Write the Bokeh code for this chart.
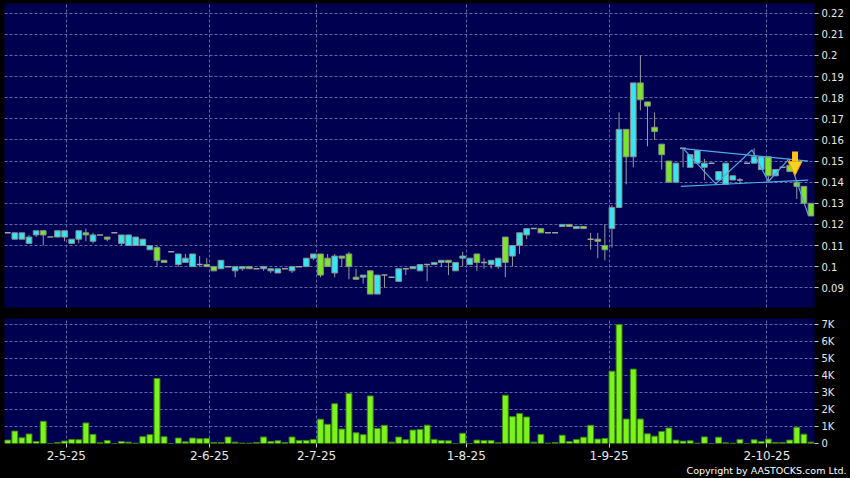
from bokeh.plotting import figure
from bokeh.layouts import column
from bokeh.models import (ColumnDataSource, FixedTicker, CustomJSTickFormatter, Grid, Range1d,
                          Arrow, NormalHead, Title, GlobalInlineStyleSheet)
from bokeh.embed import file_html
from bokeh.resources import INLINE

# ---------------- data ----------------
open_ = [0.116, 0.113, 0.113, 0.111, 0.115, 0.117, 0.114, 0.114, 0.114, 0.111,
         0.113, 0.116, 0.112, 0.115, 0.114, 0.116, 0.111, 0.110, 0.110, 0.110,
         0.108, 0.109, 0.103, 0.107, 0.101, 0.102, 0.100, 0.101, 0.101, 0.100,
         0.099, 0.100, 0.098, 0.099, 0.100, 0.099, 0.099, 0.098, 0.097, 0.099,
         0.098, 0.100, 0.100, 0.104, 0.106, 0.104, 0.097, 0.105, 0.106, 0.095,
         0.095, 0.098, 0.087, 0.096, 0.095, 0.093, 0.099, 0.099, 0.098, 0.101,
         0.101, 0.102, 0.103, 0.098, 0.104, 0.101, 0.106, 0.102, 0.101, 0.100,
         0.114, 0.105, 0.110, 0.115, 0.118, 0.118, 0.116, 0.116, 0.119, 0.120,
         0.118, 0.119, 0.113, 0.113, 0.110, 0.118, 0.128, 0.165, 0.152, 0.187,
         0.178, 0.166, 0.158, 0.150, 0.140, 0.156, 0.147, 0.149, 0.147, 0.149,
         0.141, 0.139, 0.141, 0.141, 0.149, 0.149, 0.146, 0.152, 0.143, 0.147,
         0.148, 0.140, 0.138, 0.130]
high = [0.116, 0.116, 0.116, 0.115, 0.117, 0.117, 0.114, 0.117, 0.117, 0.113,
        0.117, 0.118, 0.116, 0.115, 0.114, 0.116, 0.115, 0.115, 0.114, 0.113,
        0.110, 0.110, 0.103, 0.107, 0.106, 0.106, 0.106, 0.105, 0.104, 0.100,
        0.103, 0.100, 0.100, 0.100, 0.100, 0.099, 0.100, 0.099, 0.099, 0.099,
        0.100, 0.100, 0.104, 0.106, 0.106, 0.106, 0.106, 0.105, 0.107, 0.099,
        0.096, 0.098, 0.096, 0.096, 0.095, 0.099, 0.099, 0.100, 0.101, 0.101,
        0.102, 0.103, 0.103, 0.102, 0.107, 0.104, 0.106, 0.104, 0.103, 0.104,
        0.114, 0.110, 0.116, 0.118, 0.118, 0.118, 0.116, 0.116, 0.120, 0.120,
        0.119, 0.119, 0.116, 0.116, 0.120, 0.129, 0.173, 0.165, 0.187, 0.200,
        0.178, 0.173, 0.158, 0.150, 0.149, 0.156, 0.153, 0.155, 0.151, 0.149,
        0.145, 0.149, 0.143, 0.142, 0.149, 0.156, 0.152, 0.152, 0.146, 0.147,
        0.148, 0.140, 0.138, 0.130]
low = [0.116, 0.113, 0.113, 0.111, 0.114, 0.110, 0.114, 0.114, 0.112, 0.111,
       0.111, 0.112, 0.111, 0.115, 0.112, 0.116, 0.110, 0.110, 0.110, 0.110,
       0.108, 0.100, 0.102, 0.107, 0.100, 0.102, 0.100, 0.100, 0.100, 0.098,
       0.099, 0.100, 0.095, 0.098, 0.099, 0.099, 0.098, 0.097, 0.097, 0.099,
       0.097, 0.100, 0.100, 0.103, 0.095, 0.100, 0.095, 0.100, 0.094, 0.094,
       0.092, 0.087, 0.087, 0.090, 0.095, 0.093, 0.096, 0.099, 0.098, 0.093,
       0.101, 0.100, 0.096, 0.098, 0.100, 0.101, 0.098, 0.099, 0.099, 0.099,
       0.095, 0.100, 0.106, 0.113, 0.118, 0.116, 0.116, 0.116, 0.119, 0.119,
       0.118, 0.118, 0.108, 0.104, 0.103, 0.109, 0.128, 0.139, 0.147, 0.174,
       0.157, 0.160, 0.146, 0.140, 0.140, 0.147, 0.147, 0.149, 0.141, 0.149,
       0.141, 0.139, 0.141, 0.139, 0.149, 0.149, 0.146, 0.141, 0.143, 0.147,
       0.145, 0.132, 0.130, 0.124]
close = [0.116, 0.116, 0.116, 0.114, 0.117, 0.115, 0.114, 0.117, 0.117, 0.113,
         0.117, 0.115, 0.115, 0.115, 0.113, 0.116, 0.115, 0.115, 0.114, 0.113,
         0.110, 0.103, 0.102, 0.107, 0.106, 0.104, 0.106, 0.101, 0.100, 0.098,
         0.103, 0.100, 0.100, 0.100, 0.099, 0.099, 0.100, 0.099, 0.099, 0.099,
         0.100, 0.100, 0.104, 0.106, 0.096, 0.100, 0.105, 0.104, 0.100, 0.094,
         0.096, 0.087, 0.096, 0.096, 0.095, 0.099, 0.099, 0.100, 0.101, 0.101,
         0.102, 0.103, 0.102, 0.102, 0.105, 0.104, 0.102, 0.102, 0.103, 0.104,
         0.102, 0.110, 0.116, 0.118, 0.118, 0.116, 0.116, 0.116, 0.120, 0.119,
         0.119, 0.118, 0.113, 0.112, 0.108, 0.128, 0.165, 0.152, 0.187, 0.179,
         0.176, 0.164, 0.153, 0.140, 0.149, 0.156, 0.153, 0.155, 0.149, 0.149,
         0.145, 0.149, 0.143, 0.141, 0.149, 0.152, 0.152, 0.143, 0.146, 0.147,
         0.145, 0.138, 0.130, 0.124]
volume_k = [0.20, 0.73, 0.34, 0.56, 0.12, 1.31, 0.00, 0.06, 0.14, 0.24,
            0.22, 1.21, 0.54, 0.04, 0.18, 0.00, 0.12, 0.08, 0.02, 0.40,
            0.52, 3.83, 0.40, 0.00, 0.32, 0.10, 0.32, 0.28, 0.30, 0.06,
            0.06, 0.38, 0.08, 0.02, 0.02, 0.06, 0.38, 0.12, 0.16, 0.06,
            0.38, 0.18, 0.18, 0.24, 1.43, 1.13, 2.34, 0.85, 2.94, 0.63,
            0.52, 2.80, 0.89, 1.07, 0.08, 0.38, 0.22, 0.79, 0.83, 1.08,
            0.24, 0.18, 0.16, 0.00, 0.60, 0.00, 0.20, 0.18, 0.18, 0.04,
            2.84, 1.58, 1.76, 1.56, 0.08, 0.53, 0.02, 0.06, 0.49, 0.12,
            0.24, 0.37, 1.07, 0.26, 0.30, 4.26, 7.00, 1.44, 4.38, 1.44,
            0.57, 0.43, 0.71, 0.91, 0.20, 0.14, 0.16, 0.02, 0.39, 0.00,
            0.37, 0.04, 0.02, 0.24, 0.00, 0.22, 0.12, 0.26, 0.06, 0.06,
            0.20, 0.95, 0.55, 0.08]

date_tick_pos = [8.25, 28.4, 43.45, 64.5, 84.6, 106.8]
date_tick_labels = ["2-5-25", "2-6-25", "2-7-25", "1-8-25", "1-9-25", "2-10-25"]
price_ticks = [0.09, 0.10, 0.11, 0.12, 0.13, 0.14, 0.15, 0.16, 0.17, 0.18, 0.19, 0.20, 0.21, 0.22]
volume_ticks = [0, 1, 2, 3, 4, 5, 6, 7]

# drawn pattern (triangle) and signal arrow
upper_line_x = [94.7, 112.6]
upper_line_y = [0.156, 0.150]
lower_line_x = [94.7, 112.6]
lower_line_y = [0.138, 0.141]
zigzag_x = [95.1, 99.6, 104.7, 107.0, 109.9, 112.6]
zigzag_y = [0.1556, 0.1392, 0.1552, 0.1403, 0.1510, 0.1246]
arrow_x = 110.75
arrow_top = 0.1545
arrow_tip = 0.1432

# ---------------- styling ----------------
NAVY = "#000050"
CYAN = "#33E6F2"
GREEN = "#7AE62A"
GRID = "#5D68A6"
TXT = "#E8E8E8"
FONT = "DejaVu Sans"

n = len(open_)
idx = list(range(n))
up = [c > o for o, c in zip(open_, close)]
flat = [c == o for o, c in zip(open_, close)]

body_src = ColumnDataSource(dict(
    x=[i for i in idx if not flat[i]],
    top=[max(open_[i], close[i]) for i in idx if not flat[i]],
    bottom=[min(open_[i], close[i]) for i in idx if not flat[i]],
    color=[CYAN if up[i] else GREEN for i in idx if not flat[i]],
))
wick_src = ColumnDataSource(dict(x=idx, high=high, low=low))
doji_src = ColumnDataSource(dict(
    x0=[i - 0.42 for i in idx if flat[i]],
    x1=[i + 0.42 for i in idx if flat[i]],
    y=[close[i] for i in idx if flat[i]],
))
vol_src = ColumnDataSource(dict(x=idx, v=volume_k))

xr = Range1d(-0.45, 113.49)

# ---------------- price panel ----------------
p1 = figure(width=850, height=312, x_range=xr, y_range=Range1d(0.08065, 0.22459),
            output_backend="svg", toolbar_location=None,
            x_axis_location=None, y_axis_location="right",
            min_border_left=4, min_border_right=36, min_border_top=3, min_border_bottom=5,
            background_fill_color=NAVY, border_fill_color="#000000", outline_line_color=None)
p1.center = []
p1.add_layout(Grid(dimension=0, ticker=FixedTicker(ticks=date_tick_pos),
                   grid_line_color=GRID, grid_line_dash="3 2", grid_line_width=1))
p1.add_layout(Grid(dimension=1, ticker=FixedTicker(ticks=price_ticks),
                   grid_line_color=GRID, grid_line_dash="3 2", grid_line_width=1))

p1.segment(x0="x", y0="high", x1="x", y1="low", source=wick_src, line_color="#9A9A9A", line_width=1)
p1.vbar(x="x", top="top", bottom="bottom", width=0.8, source=body_src,
        fill_color="color", line_color="#8C8C8C", line_width=1)
p1.segment(x0="x0", y0="y", x1="x1", y1="y", source=doji_src, line_color="#A0A0A0", line_width=1.5)

p1.line(upper_line_x, upper_line_y, line_color="#4FA8E6", line_width=1.2)
p1.line(lower_line_x, lower_line_y, line_color="#4FA8E6", line_width=1.2)
p1.line(zigzag_x, zigzag_y, line_color="#4FA8E6", line_width=1.2)

p1.add_layout(Arrow(end=NormalHead(size=14, fill_color="#FFD21F", line_color="#F0A000", line_width=1),
                    x_start=arrow_x, y_start=arrow_top, x_end=arrow_x, y_end=arrow_tip,
                    line_color="#FFC21A", line_width=6))

ya = p1.yaxis[0]
ya.ticker = FixedTicker(ticks=price_ticks)
ya.formatter = CustomJSTickFormatter(code="return (Math.round(tick*100)/100).toString();")
ya.axis_line_color = None
ya.major_tick_line_color = "#C8C8C8"
ya.major_tick_out = 4
ya.major_tick_in = 0
ya.minor_tick_line_color = None
ya.major_label_standoff = 3
ya.major_label_text_color = TXT
ya.major_label_text_font = FONT
ya.major_label_text_font_size = "10px"

# ---------------- volume panel ----------------
p2 = figure(width=850, height=166, x_range=xr, y_range=Range1d(0, 7.36),
            output_backend="svg", toolbar_location=None,
            y_axis_location="right",
            min_border_left=4, min_border_right=36, min_border_top=6, min_border_bottom=35,
            background_fill_color=NAVY, border_fill_color="#000000", outline_line_color=None)
p2.center = []
p2.add_layout(Grid(dimension=0, ticker=FixedTicker(ticks=date_tick_pos),
                   grid_line_color=GRID, grid_line_dash="3 2", grid_line_width=1))
p2.add_layout(Grid(dimension=1, ticker=FixedTicker(ticks=volume_ticks[1:]),
                   grid_line_color=GRID, grid_line_dash="3 2", grid_line_width=1))

p2.vbar(x="x", top="v", bottom=0, width=0.82, source=vol_src,
        fill_color="#7CF41C", line_color="#3E8A0A", line_width=1)

va = p2.yaxis[0]
va.ticker = FixedTicker(ticks=volume_ticks)
va.formatter = CustomJSTickFormatter(code="return tick == 0 ? '0' : Math.round(tick) + 'K';")
va.axis_line_color = None
va.major_tick_line_color = "#C8C8C8"
va.major_tick_out = 4
va.major_tick_in = 0
va.minor_tick_line_color = None
va.major_label_standoff = 3
va.major_label_text_color = TXT
va.major_label_text_font = FONT
va.major_label_text_font_size = "10px"

xa = p2.xaxis[0]
xa.ticker = FixedTicker(ticks=date_tick_pos)
xa.formatter = CustomJSTickFormatter(
    args=dict(pos=date_tick_pos, labels=date_tick_labels),
    code="for (let i = 0; i < pos.length; i++) { if (Math.abs(pos[i] - tick) < 1e-6) return labels[i]; } return '';")
xa.axis_line_color = None
xa.major_tick_line_color = "#C8C8C8"
xa.major_tick_out = 4
xa.major_tick_in = 0
xa.minor_tick_line_color = None
xa.major_label_standoff = 3
xa.major_label_text_color = TXT
xa.major_label_text_font = FONT
xa.major_label_text_font_size = "12px"

p2.add_layout(Title(text="Copyright by AASTOCKS.com Ltd.", align="right", offset=-32,
                    text_font=FONT, text_font_size="9.5px", text_font_style="normal",
                    text_color="#FFFFFF", standoff=0), "below")

layout = column(p1, p2, stylesheets=[GlobalInlineStyleSheet(css="body { background: #000000; }")])

open("out.html", "w").write(file_html(layout, INLINE))
